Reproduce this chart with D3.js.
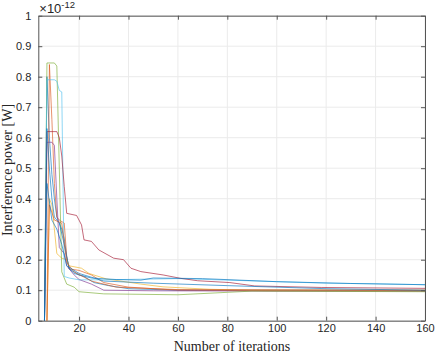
<!DOCTYPE html>
<html>
<head>
<meta charset="utf-8">
<script src="https://cdn.jsdelivr.net/npm/d3@7"></script>
<style>
  body { margin: 0; background: #fff; }
  svg { display: block; }
</style>
</head>
<body>
<script>
'use strict';

// tick labels
const xTicks = [20, 40, 60, 80, 100, 120, 140, 160];
const yTicks = [0, 0.1, 0.2, 0.3, 0.4, 0.5, 0.6, 0.7, 0.8, 0.9, 1];

// series: [iteration, power x1e-12]
const blue1 = [[6,0],[7,0.80],[8,0.60],[9,0.48],[10,0.40],[11,0.34],[12,0.32],[13,0.30],[14,0.27],[15,0.21],[16,0.17],[18,0.155],[22,0.145],[26,0.125],[32,0.115],[40,0.105],[60,0.10],[100,0.10],[160,0.099]];
const orange1 = [[7,0],[8,0.84],[9,0.66],[10,0.45],[11,0.34],[12,0.33],[14,0.32],[15,0.21],[16,0.17],[20,0.165],[25,0.15],[30,0.125],[40,0.11],[60,0.10],[100,0.098],[160,0.097]];
const yellow1 = [[7,0],[8,0.40],[9,0.38],[10,0.30],[11,0.22],[13,0.205],[15,0.20],[16,0.18],[21,0.172],[24,0.155],[31,0.137],[45,0.12],[54,0.111],[73,0.103],[90,0.10],[160,0.10]];
const purple1 = [[6,0],[7,0.585],[9,0.585],[10,0.575],[11,0.40],[12,0.24],[14,0.22],[15,0.18],[18,0.15],[20,0.135],[25,0.12],[30,0.10],[50,0.098],[100,0.097],[160,0.097]];
const green1 = [[6,0],[7,0.845],[10,0.845],[11,0.835],[12,0.50],[13,0.16],[15,0.12],[18,0.11],[20,0.095],[30,0.088],[60,0.085],[80,0.093],[90,0.097],[160,0.095]];
const lightblue1 = [[6,0],[7,0.79],[10,0.79],[11,0.785],[12,0.755],[13,0.75],[14,0.145],[16,0.14],[20,0.134],[30,0.134],[60,0.138],[80,0.133],[100,0.128],[120,0.123],[140,0.121],[160,0.118]];
const darkred1 = [[6,0],[7,0.62],[11,0.62],[12,0.60],[13,0.54],[14,0.44],[15,0.352],[19,0.345],[21,0.314],[22,0.265],[25,0.26],[28,0.232],[34,0.205],[38,0.20],[41,0.172],[45,0.161],[54,0.15],[61,0.139],[68,0.131],[81,0.125],[91,0.114],[118,0.109],[160,0.106]];
const blue2 = [[6,0],[7,0.63],[8,0.50],[9,0.40],[10,0.34],[12,0.32],[14,0.25],[16,0.17],[20,0.15],[25,0.14],[35,0.135],[45,0.133],[50,0.14],[70,0.138],[100,0.128],[130,0.122],[160,0.118]];
const orange2 = [[7,0],[8,0.38],[10,0.33],[13,0.32],[15,0.19],[18,0.16],[25,0.13],[35,0.11],[60,0.102],[160,0.10]];
const blue3 = [[6,0],[7,0.45],[9,0.33],[11,0.30],[13,0.25],[15,0.18],[20,0.155],[30,0.13],[50,0.123],[80,0.115],[120,0.105],[160,0.10]];

const seriesList = [blue1, orange1, yellow1, purple1, green1, lightblue1, darkred1, blue2, orange2, blue3];
const seriesColors = ['#0072BD', '#D95319', '#EDB120', '#7E2F8E', '#77AC30', '#4DBEEE', '#A2142F', '#0072BD', '#D95319', '#0072BD'];

const W = 436, H = 354;
const m = { left: 38.3, right: 425, top: 15.7, bottom: 320.7 };

const svg = d3.select('body').append('svg')
  .attr('width', W)
  .attr('height', H);

const x = d3.scaleLinear().domain([3.5, 160]).range([m.left, m.right]);
const y = d3.scaleLinear().domain([0, 1]).range([m.bottom, m.top]);

// grid
svg.append('g')
  .selectAll('line.gx')
  .data(xTicks)
  .enter().append('line')
  .attr('x1', d => x(d)).attr('x2', d => x(d))
  .attr('y1', m.top).attr('y2', m.bottom)
  .attr('stroke', '#ebebeb');

svg.append('g')
  .selectAll('line.gy')
  .data(yTicks)
  .enter().append('line')
  .attr('x1', m.left).attr('x2', m.right)
  .attr('y1', d => y(d)).attr('y2', d => y(d))
  .attr('stroke', '#ebebeb');

// lines
const line = d3.line()
  .x(d => x(d[0]))
  .y(d => y(d[1]));

const plot = svg.append('g');
seriesList.forEach((s, i) => {
  plot.append('path')
    .datum(s)
    .attr('d', line)
    .attr('fill', 'none')
    .attr('stroke', seriesColors[i])
    .attr('stroke-width', 0.8)
    .attr('stroke-opacity', 0.8);
});

// axes, ticks pointing inward
const axisColor = '#555';
const fontSans = 'Liberation Sans, Arial, Helvetica, sans-serif';

const xAxis = d3.axisBottom(x).tickValues(xTicks).tickSizeInner(-4).tickSizeOuter(0).tickPadding(4);
const gx = svg.append('g').attr('transform', `translate(0,${m.bottom})`).call(xAxis);
const xAxisTop = d3.axisTop(x).tickValues(xTicks).tickSizeInner(-4).tickSizeOuter(0).tickFormat('');
const gxt = svg.append('g').attr('transform', `translate(0,${m.top})`).call(xAxisTop);

const yAxis = d3.axisLeft(y).tickValues(yTicks).tickSizeInner(-4).tickSizeOuter(0).tickPadding(7)
  .tickFormat(d => d === 0 ? '0' : d === 1 ? '1' : d3.format('.1f')(d));
const gy = svg.append('g').attr('transform', `translate(${m.left},0)`).call(yAxis);
const yAxisRight = d3.axisRight(y).tickValues(yTicks).tickSizeInner(-4).tickSizeOuter(0).tickFormat('');
const gyr = svg.append('g').attr('transform', `translate(${m.right},0)`).call(yAxisRight);

[gx, gxt, gy, gyr].forEach(g => {
  g.select('.domain').attr('stroke', axisColor);
  g.selectAll('.tick line').attr('stroke', axisColor);
  g.selectAll('.tick text')
    .attr('fill', '#262626')
    .style('font-family', fontSans)
    .style('font-size', '11px');
});

// exponent label
const expo = svg.append('text')
  .attr('x', m.left + 1)
  .attr('y', 13)
  .attr('fill', '#262626')
  .style('font-family', fontSans)
  .style('font-size', '13px');
expo.append('tspan').text('\u00d710');
expo.append('tspan').attr('dy', -5).style('font-size', '9.5px').text('-12');

// axis labels
const fontSerif = 'Liberation Serif, DejaVu Serif, serif';
svg.append('text')
  .attr('x', 232)
  .attr('y', 351)
  .attr('text-anchor', 'middle')
  .attr('fill', '#262626')
  .style('font-family', fontSerif)
  .style('font-size', '14px')
  .text('Number of iterations');

svg.append('text')
  .attr('transform', 'translate(12,170)rotate(-90)')
  .attr('text-anchor', 'middle')
  .attr('fill', '#262626')
  .style('font-family', fontSerif)
  .style('font-size', '14px')
  .text('Interference power [W]');
</script>
</body>
</html>
